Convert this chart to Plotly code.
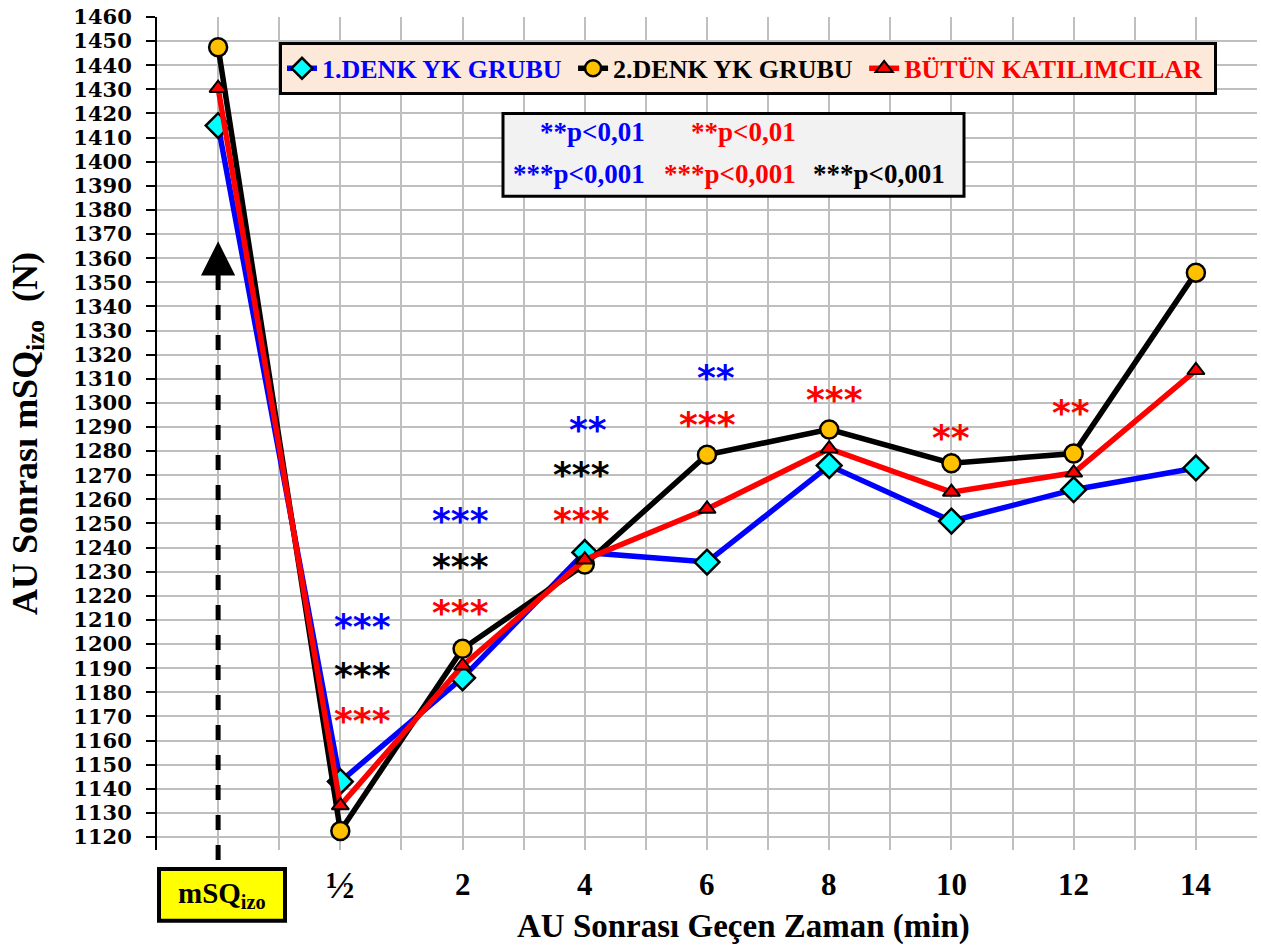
import plotly.graph_objects as go

# ---------------- data ----------------
categories = ["mSQ<sub>izo</sub>", "½", "2", "4", "6", "8", "10", "12", "14"]
grup1 = [1415, 1143, 1186, 1238, 1234, 1274, 1251, 1264, 1273]
grup2 = [1447.5, 1122.5, 1198, 1233, 1278.5, 1289, 1275, 1279, 1354]
butun = [1430.5, 1133, 1191, 1235, 1256, 1281, 1263, 1271, 1313.5]

series_names = ["1.DENK YK GRUBU", "2.DENK YK GRUBU", "BÜTÜN KATILIMCILAR"]

# significance stars (category position, value level, text, colour)
star_x = [1.18, 1.18, 1.18, 1.98, 1.98, 1.98, 3.03, 2.97, 2.97, 4.07, 4.0, 5.04, 6.0, 6.98]
star_y = [1210, 1190, 1171, 1254, 1235, 1216, 1292, 1273, 1254, 1313.5, 1294, 1304.5, 1288.5, 1299]
star_t = ["***", "***", "***", "***", "***", "***", "**", "***", "***", "**", "***", "***", "**", "**"]
star_c = ["blue", "black", "red", "blue", "black", "red", "blue", "black", "red",
          "blue", "red", "red", "red", "red"]

y_min, y_max = 1114.6, 1460

BLUE, BLACK, RED = "#0000FF", "#000000", "#FF0000"
SERIF = "Liberation Serif"
color_map = {"blue": BLUE, "black": BLACK, "red": RED}

W, H = 1261, 948
ML, MR, MT, MB = 157, 4, 13, 98
PW, PH = W - ML - MR, H - MT - MB


def px(xpix):
    return (xpix - ML) / PW


def py(ypix):
    return (H - MB - ypix) / PH


xs = list(range(len(categories)))
NB = "\u00a0"

fig = go.Figure()
fig.add_trace(go.Scatter(
    x=xs, y=grup1, mode="lines+markers",
    name=f"<span style='color:{BLUE}'>{series_names[0]}{NB}</span>",
    line=dict(color=BLUE, width=5.5),
    marker=dict(symbol="diamond", size=19, color="#00FFFF", line=dict(color="black", width=2.5)),
))
fig.add_trace(go.Scatter(
    x=xs, y=grup2, mode="lines+markers",
    name=f"<span style='color:{BLACK}'>{series_names[1]}{NB}</span>",
    line=dict(color=BLACK, width=5.5),
    marker=dict(symbol="circle", size=18, color="#FFC000", line=dict(color="black", width=2.5)),
))
fig.add_trace(go.Scatter(
    x=xs, y=butun, mode="lines+markers",
    name=f"<span style='color:{RED}'>{series_names[2]}{NB}</span>",
    line=dict(color=RED, width=5.5),
    marker=dict(symbol="triangle-up", size=15, color=RED, line=dict(color="black", width=2)),
))

annotations = []
# x category labels (all but the first which sits in the yellow box)
for i, lab in enumerate(categories):
    if i == 0:
        continue
    annotations.append(dict(
        x=i, y=py(885), xref="x", yref="paper", text=lab, showarrow=False,
        font=dict(family=SERIF, size=38 if lab == "½" else 31, color="black", weight="bold"),
        xanchor="center", yanchor="middle"))

# yellow box label for first category
annotations.append(dict(
    x=px(221.5), y=py(895), xref="paper", yref="paper", text=categories[0],
    showarrow=False, font=dict(family=SERIF, size=29, color="black", weight="bold"),
    xanchor="center", yanchor="middle"))

# x axis title
annotations.append(dict(
    x=px(743), y=py(927), xref="paper", yref="paper",
    text="AU Sonrası Geçen Zaman (min)", showarrow=False,
    font=dict(family=SERIF, size=33, color="black", weight="bold"),
    xanchor="center", yanchor="middle"))

# stars
for sx, sy, st, sc in zip(star_x, star_y, star_t, star_c):
    annotations.append(dict(
        x=sx, y=sy, xref="x", yref="y", text=st, showarrow=False,
        font=dict(family="DejaVu Sans", size=36, color=color_map[sc], weight="bold"),
        xanchor="center", yanchor="middle", yshift=-7))

# p-value box texts
p_rows = [
    (647, 129, BLUE, "**", "p<0,01"),
    (798, 129, RED, "**", "p<0,01"),
    (647, 171, BLUE, "***", "p<0,001"),
    (798, 171, RED, "***", "p<0,001"),
    (947, 171, BLACK, "***", "p<0,001"),
]
for xr, yc, col, stars, txt in p_rows:
    annotations.append(dict(
        x=px(xr), y=py(yc), xref="paper", yref="paper",
        text=f"<span style='font-size:27px'>{stars}</span>{txt}", showarrow=False,
        font=dict(family=SERIF, size=27, color=col, weight="bold"),
        xanchor="right", yanchor="middle"))

# arrow head for dashed arrow
annotations.append(dict(
    x=0, y=1367, xref="x", yref="y", ax=0, ay=30, axref="pixel", ayref="pixel",
    text="", showarrow=True, arrowhead=2, arrowsize=1.8, arrowwidth=3.8,
    arrowcolor="black"))

shapes = [
    # dashed vertical arrow line
    dict(type="line", xref="x", yref="paper", x0=0, x1=0, y0=py(860), y1=py(272),
         line=dict(color="black", width=5, dash="dash")),
    # p-value box
    dict(type="rect", xref="paper", yref="paper", x0=px(503), x1=px(964),
         y0=py(193), y1=py(110), fillcolor="#F2F2F2",
         line=dict(color="black", width=3), layer="above"),
    # yellow label box
    dict(type="rect", xref="paper", yref="paper", x0=px(159), x1=px(285),
         y0=py(921), y1=py(869), fillcolor="#FFFF00",
         line=dict(color="black", width=4)),
]

fig.update_layout(
    width=W, height=H,
    margin=dict(l=ML, r=MR, t=MT, b=MB, pad=0),
    plot_bgcolor="white", paper_bgcolor="white",
    showlegend=True,
    legend=dict(
        orientation="h", x=px(279), y=py(38), xanchor="left", yanchor="top",
        bgcolor="#FDE9D9", bordercolor="black", borderwidth=3,
        font=dict(family=SERIF, size=26, color="black", weight="bold"),
        itemclick=False, itemdoubleclick=False, tracegroupgap=0,
    ),
    xaxis=dict(
        range=[-0.5, 8.5], tick0=-0.5, dtick=0.5, showticklabels=False,
        showgrid=True, gridcolor="#BFBFBF", gridwidth=2, zeroline=False,
        showline=False, ticks="", fixedrange=True,
    ),
    yaxis=dict(
        range=[y_min, y_max], tick0=1120, dtick=10,
        showgrid=True, gridcolor="#BFBFBF", gridwidth=2, zeroline=False,
        showline=True, linecolor="black", linewidth=2,
        ticks="outside", ticklen=9, tickwidth=2, tickcolor="black",
        tickfont=dict(family="DejaVu Serif", size=21, color="black", weight="bold"),
        ticklabelstandoff=10,
        title=dict(text="AU Sonrası mSQ<sub>izo</sub>  (N)",
                   font=dict(family=SERIF, size=36, color="black", weight="bold"),
                   standoff=25),
        fixedrange=True,
    ),
    annotations=annotations,
    shapes=shapes,
)

fig.write_html("out.html")
